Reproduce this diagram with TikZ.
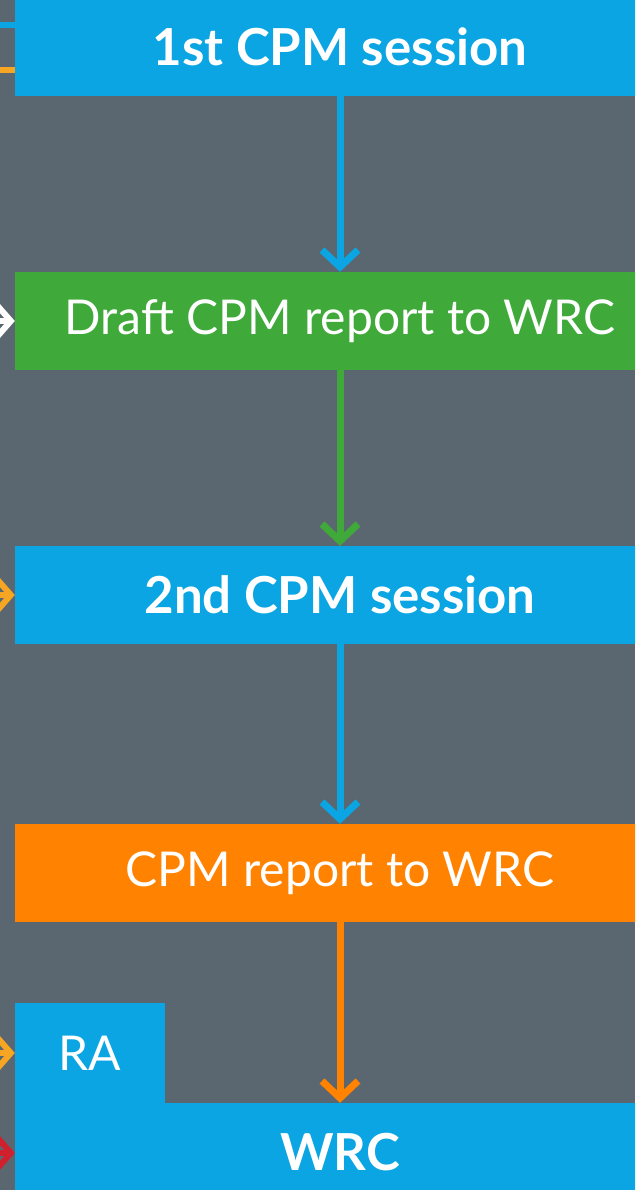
\documentclass[tikz,border=0pt]{standalone}
\usepackage{fontspec}
\setmainfont{Lato}
\usetikzlibrary{arrows.meta}

\definecolor{bggray}{HTML}{5B6770}
\definecolor{cpmblue}{HTML}{0AA5E2}
\definecolor{cpmgreen}{HTML}{3FA93A}
\definecolor{cpmorange}{HTML}{FF8200}
\definecolor{feedyellow}{HTML}{F6A623}
\definecolor{feedred}{HTML}{D0202E}

\tikzset{
	stage/.style={fill=#1, text=white, inner sep=0pt, minimum width=650pt, minimum height=98pt,
		font=\fontsize{48}{56}\selectfont},
	stagebold/.style={stage=#1, font=\fontsize{51}{60}\selectfont\bfseries},
	flow/.style={draw=#1, line width=7pt, -{Straight Barb[length=17pt,width=36pt]}},
	feed/.style={draw=#1, line width=6pt, -{Straight Barb[length=14pt,width=32pt]}},
	feedline/.style={draw=#1, line width=6pt}
}

\begin{document}
\begin{tikzpicture}[x=1pt,y=-1pt]
	\useasboundingbox (0,0) rectangle (635,1190);
	\clip (0,0) rectangle (635,1190);
	\fill[bggray] (0,0) rectangle (635,1190);

	% stages
	\node[stagebold=cpmblue] (first) at (340,47) {1st CPM session};
	\node[stage=cpmgreen] (draft) at (340,321) {Draft CPM report to WRC};
	\node[stagebold=cpmblue] (second) at (340,595) {2nd CPM session};
	\node[stage=cpmorange] (report) at (340,873) {CPM report to WRC};
	\node[stagebold=cpmblue] (wrc) at (340,1152) {WRC};
	\node[stage=cpmblue, minimum width=150pt, minimum height=100pt] (ra) at (90,1053) {RA};

	% main flow
	\draw[flow=cpmblue] (first.south) -- (draft.north);
	\draw[flow=cpmgreen] (draft.south) -- (second.north);
	\draw[flow=cpmblue] (second.south) -- (report.north);
	\draw[flow=cpmorange] (report.south) -- (wrc.north);

	% inputs from the left
	\coordinate (inblue) at (-30,25);
	\coordinate (inorange) at (-30,70);
	\coordinate (indraft) at (-30,321);
	\coordinate (insecond) at (-30,595);
	\coordinate (inra) at (-30,1053);
	\coordinate (inwrc) at (-30,1153);
	\draw[feedline=cpmblue] (inblue) -- (inblue -| first.west);
	\draw[feedline=feedyellow] (inorange) -- (inorange -| first.west);
	\draw[feed=white] (indraft) -- (draft.west);
	\draw[feed=feedyellow] (insecond) -- (second.west);
	\draw[feed=feedyellow] (inra) -- (ra.west);
	\draw[feed=feedred] (inwrc) -- (inwrc -| wrc.west);
\end{tikzpicture}
\end{document}
